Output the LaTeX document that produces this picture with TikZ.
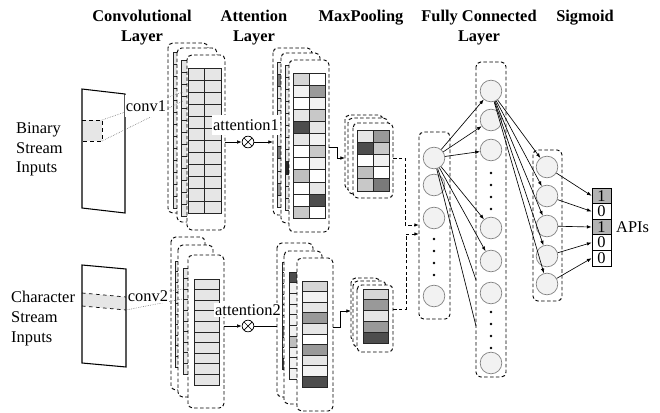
\documentclass[tikz,border=0pt]{standalone}
\usepackage{fontspec}
\setmainfont{Liberation Serif}
\usetikzlibrary{arrows.meta}

% gray levels of the feature maps
\definecolor{grayA}{HTML}{F2F2F2}
\definecolor{grayB}{HTML}{E6E6E6}
\definecolor{grayC}{HTML}{D6D6D6}
\definecolor{grayD}{HTML}{C8C8C8}
\definecolor{grayE}{HTML}{BFBFBF}
\definecolor{grayF}{HTML}{999999}
\definecolor{grayG}{HTML}{7A7A7A}
\definecolor{grayH}{HTML}{4D4D4D}
\definecolor{grayI}{HTML}{262626}
\definecolor{outgray}{HTML}{B3B3B3}

\tikzset{
  title/.style={font=\fontsize{14}{17}\selectfont\bfseries, align=center, anchor=north, inner sep=0pt},
  sheet/.style={draw, fill=white, line width=0.8pt, dash pattern=on 3pt off 2pt, rounded corners=4pt},
  cell/.style={draw=black!85, line width=0.6pt},
  plate/.style={draw, line width=0.9pt},
  kernel/.style={draw=black!60, line width=0.5pt, densely dotted},
  tag/.style={fill=white, inner xsep=1pt, inner ysep=1.5pt},
  link/.style={draw, line width=0.55pt, -{Latex[length=4pt,width=3pt]}},
  wire/.style={draw, line width=0.55pt},
  merge/.style={link, line width=0.8pt, dash pattern=on 3pt off 2pt},
  mult/.style={circle, draw, line width=0.6pt, inner sep=0pt, minimum size=10pt,
    path picture={\draw[line width=0.6pt]
      (path picture bounding box.north west) -- (path picture bounding box.south east)
      (path picture bounding box.north east) -- (path picture bounding box.south west);}},
  neuron/.style={circle, draw=black!50, fill=grayA, line width=0.6pt, inner sep=0pt, minimum size=18.5pt},
  outcell/.style={draw, line width=0.7pt, inner sep=0pt, minimum width=16.2pt, minimum height=13.3pt},
}

% grid of cells: x, y, cell width, cell height, columns, fills (row by row)
\newcommand{\cellgrid}[6]{%
  \foreach \tone [count=\k from 0] in {#6}{%
    \pgfmathtruncatemacro{\rw}{floor(\k/#5)}%
    \pgfmathtruncatemacro{\cl}{\k-\rw*#5}%
    \draw[cell, fill=\tone] ({#1+\cl*#3},{#2+\rw*#4}) rectangle ++(#3,#4);
  }}
% grid with one fill: x, y, cell width, cell height, columns, rows, fill
\newcommand{\plaingrid}[7]{%
  \foreach \rw in {1,...,#6}{\foreach \cl in {1,...,#5}{%
    \draw[cell, fill=#7] ({#1+(\cl-1)*#3},{#2+(\rw-1)*#4}) rectangle ++(#3,#4);}}}

\begin{document}
\begin{tikzpicture}[x=0.03cm, y=-0.03cm, font=\fontsize{14}{17}\selectfont]
  \useasboundingbox (0,0) rectangle (660,413);

  % Titles
  \node[title] (ttlconv) at (142,10) {Convolutional\\Layer};
  \node[title] (ttlatt) at (254,10) {Attention\\Layer};
  \node[title] (ttlpool) at (361,10) {MaxPooling};
  \node[title] (ttlfc) at (479,10) {Fully Connected\\Layer};
  \node[title] (ttlsig) at (585,10) {Sigmoid};

  % Inputs
  \node[anchor=north west, align=left, inner sep=0pt] (inbin) at (16,122) {Binary\\Stream\\Inputs};
  \node[anchor=north west, align=left, inner sep=0pt] (inchar) at (11,291) {Character\\Stream\\Inputs};

  \draw[dashed, fill=grayB, line width=0.6pt] (82,120) -- (102,120) -- (102,141) -- (82,141);
  \draw[plate] (82,89) -- (125,94) -- (125,213) -- (82,208) -- cycle;

  \fill[grayB] (82,293) -- (126,297) -- (126,310) -- (82,306) -- cycle;
  \draw[dashed, line width=0.6pt] (82,293) -- (126,297) (82,306) -- (126,310);
  \draw[plate] (82,265) -- (126,269) -- (126,367) -- (82,363) -- cycle;

  % Convolutional layer, binary stream
  \draw[sheet] (168,43) rectangle (208,213);
  \plaingrid{173}{52}{16.5}{12}{2}{13}{grayB}
  \draw[sheet] (177,48) rectangle (217,222);
  \plaingrid{181}{60}{16.5}{12}{2}{13}{grayB}
  \draw[sheet] (187,55) rectangle (225,230);
  \plaingrid{188}{68}{16.5}{12.08}{2}{12}{grayB}

  % Convolutional layer, character stream
  \draw[sheet] (171,237) rectangle (205,390);
  \plaingrid{175}{261}{25}{10.6}{1}{10}{grayB}
  \draw[sheet] (178,245) rectangle (213,397);
  \plaingrid{183}{268}{25}{10.6}{1}{10}{grayB}
  \draw[sheet] (188,255) rectangle (224,408);
  \plaingrid{194}{279}{25}{10.6}{1}{10}{grayB}

  % Kernels
  \coordinate (patchA1) at (102,120);
  \coordinate (patchA2) at (102,141);
  \coordinate (kernA1) at (183,92);
  \coordinate (kernA2) at (183,101);
  \draw[kernel] (patchA1) -- (kernA1);
  \draw[kernel] (patchA2) -- (kernA2);
  \coordinate (patchB1) at (126,297);
  \coordinate (patchB2) at (126,310);
  \coordinate (kernB1) at (183,289);
  \coordinate (kernB2) at (182,299);
  \draw[kernel] (patchB1) -- (kernB1);
  \draw[kernel] (patchB2) -- (kernB2);

  \node[tag, minimum height=18pt] (lblconvA) at (146,106) {conv1};
  \node[tag, inner ysep=1pt] (lblconvB) at (148,296) {conv2};

  % Attention layer, binary stream
  \draw[sheet] (273,48) rectangle (312,215);
  \cellgrid{277}{62}{16}{12.1}{2}{grayB,white,grayG,white,grayB,white,grayB,white,%
    grayB,white,grayB,white,grayB,white,grayG,white,grayB,white,grayB,white,%
    grayF,white,grayB,white}
  \draw[sheet] (281,53) rectangle (320,223);
  \cellgrid{285}{65}{16}{12.1}{2}{grayB,white,grayB,white,grayB,white,grayB,white,%
    grayB,white,grayB,white,grayB,white,grayB,white,grayI,white,grayB,white,%
    grayB,white,grayB,white}
  \draw[sheet] (289,60) rectangle (329,232);
  \cellgrid{293}{73}{16}{12.1}{2}{grayC,white,grayA,grayF,white,grayA,grayB,grayD,%
    grayH,grayB,grayB,grayA,white,grayD,white,grayA,grayE,white,white,grayB,%
    white,grayH,grayD,white}

  % Attention layer, character stream
  \draw[sheet] (277,243) rectangle (313,397);
  \cellgrid{282}{262}{25}{10.7}{1}{white,white,white,white,white,white,grayG,white,white,grayH}
  \draw[sheet] (284,251) rectangle (322,404);
  \cellgrid{289}{272}{25}{10.7}{1}{grayH,grayA,grayA,grayA,grayA,grayA,grayE,grayA,grayA,grayA}
  \draw[sheet] (297,258) rectangle (333,411);
  \cellgrid{302}{281}{25}{10.6}{1}{grayC,grayA,grayB,grayF,grayB,white,grayF,grayB,grayA,grayH}

  % Attention weighting
  \coordinate (convAout) at (225,142);
  \node[mult] (mulA) at (248,142) {};
  \coordinate (attAin) at (273,142);
  \draw[link] (convAout) -- (mulA);
  \draw[link] (mulA) -- (attAin);
  \node[tag, minimum height=17pt] (lblattA) at (246,125) {attention1};

  \coordinate (convBout) at (224,326);
  \node[mult] (mulB) at (248,326) {};
  \coordinate (attBin) at (277,326);
  \draw[link] (convBout) -- (mulB);
  \draw[wire] (mulB) -- (attBin);
  \node[tag] (lblattB) at (248,310) {attention2};

  % MaxPooling
  \draw[sheet] (345,115) rectangle (383,190);
  \draw[sheet] (348,118) rectangle (388,194);
  \draw[sheet] (353,123) rectangle (393,198);
  \cellgrid{357}{130}{16}{12.2}{2}{grayB,grayF,grayH,grayD,white,grayA,grayE,white,grayD,grayG}

  \draw[sheet] (351,278) rectangle (380,342);
  \draw[sheet] (353,281) rectangle (386,347);
  \draw[sheet] (357,285) rectangle (393,352);
  \cellgrid{363}{289}{25}{10.8}{1}{grayC,grayF,grayB,grayF,grayH}

  \coordinate (attAout) at (329,147);
  \coordinate (poolAin) at (345,158);
  \draw[link] (attAout) -- ++(8,0) |- (poolAin);
  \coordinate (attBout) at (333,327);
  \coordinate (poolBin) at (351,311);
  \draw[link] (attBout) -- ++(7,0) |- (poolBin);

  % Merge into the fully connected layer
  \coordinate (poolAout) at (393,158);
  \coordinate (fcinA) at (419,225);
  \draw[merge] (poolAout) -- ++(12,0) |- (fcinA);
  \coordinate (poolBout) at (393,309);
  \coordinate (fcinB) at (419,234);
  \draw[merge] (poolBout) -- ++(13,0) |- (fcinB);

  % Fully connected layer and sigmoid
  \draw[sheet, fill=none] (419,132) rectangle (450,319);
  \draw[sheet, fill=none] (476,62) rectangle (506,377);
  \draw[sheet, fill=none] (533,150) rectangle (562,301);

  \foreach \n/\y in {1/158, 2/185, 3/218, 4/296}
    \node[neuron] (fa\n) at (434,\y) {};
  \foreach \n/\y in {1/91, 2/120, 3/150, 4/228, 5/261, 6/293, 7/363}
    \node[neuron] (fb\n) at (491,\y) {};
  \foreach \n/\y in {1/167, 2/196, 3/226, 4/256, 5/284}
    \node[neuron] (sg\n) at (547,\y) {};
  \foreach \y in {239,251,263,275}
    \fill (434,\y) circle (1.1pt);
  \foreach \y in {173,185,197,209,312,324,336,348}
    \fill (491,\y) circle (1.1pt);

  \foreach \t in {1,...,5}
    \draw[link] (fa1) -- (fb\t);
  \coordinate (fbedgeA) at (476,280);
  \coordinate (fbedgeB) at (476,326);
  \draw[wire] (fa1) -- (fbedgeA);
  \draw[wire] (fa1) -- (fbedgeB);
  \foreach \t in {1,...,5}
    \draw[link] (fb1) -- (sg\t);

  % Output vector
  \foreach \n/\v/\c in {1/1/outgray, 2/0/white, 3/1/outgray, 4/0/white, 5/0/white}
    \node[outcell, fill=\c] (out\n) at (601.5,{180.2+\n*15.6}) {\v};
  \foreach \t in {1,...,5}
    \draw[link] (sg\t) -- (out\t.west);
  \node[anchor=west, inner sep=0pt] (apis) at (616,227) {APIs};
\end{tikzpicture}
\end{document}
